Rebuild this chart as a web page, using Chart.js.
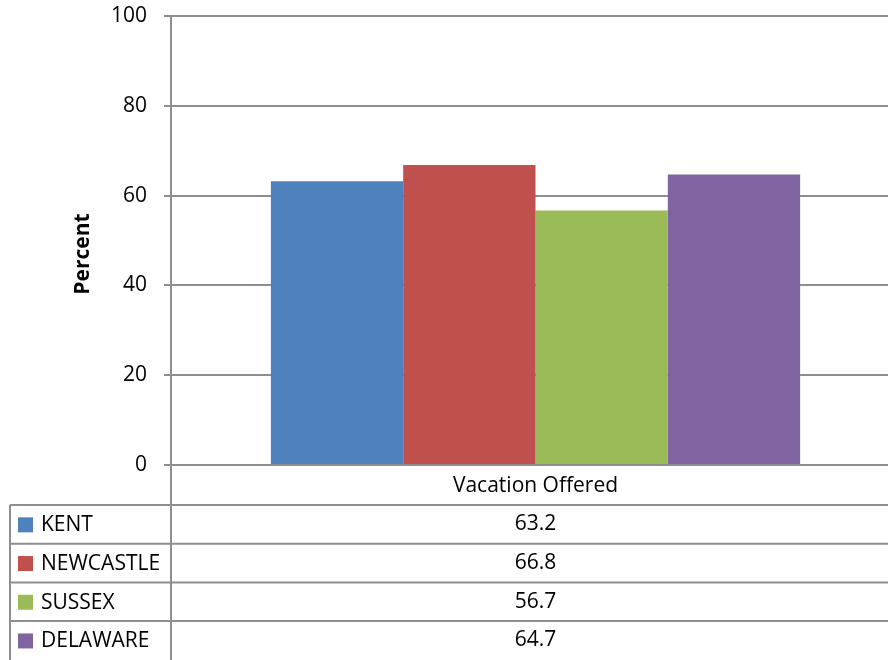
<!DOCTYPE html>
<html>
<head>
<meta charset="utf-8">
<script src="https://cdn.jsdelivr.net/npm/chart.js@4"></script>
<style>
  html, body { margin: 0; padding: 0; background: #fff; overflow: hidden; }
  #wrap { width: 888px; height: 660px; overflow: hidden; }
</style>
</head>
<body>
<div id="wrap"><canvas id="chart" width="900" height="660"></canvas></div>
<script>
const categories = ['Vacation Offered'];
const seriesNames = ['KENT', 'NEWCASTLE', 'SUSSEX', 'DELAWARE'];
const seriesColors = ['#4f81bd', '#c0504d', '#9bbb59', '#8064a2'];
const kentValues = [63.2];
const newcastleValues = [66.8];
const sussexValues = [56.7];
const delawareValues = [64.7];
const seriesValues = [kentValues, newcastleValues, sussexValues, delawareValues];
const yTicks = [0, 20, 40, 60, 80, 100];

const FONT = '"Open Sans", sans-serif';
const GRID = '#8e8e8e';

// draws the data table under the plot and the y title
const dataTable = {
  id: 'dataTable',
  afterDraw(chart) {
    const ctx = chart.ctx;
    const area = chart.chartArea;
    const rowTop = 505;
    const rowH = 38.7;
    ctx.save();
    ctx.strokeStyle = GRID;
    ctx.lineWidth = 2;
    // vertical axis line extended down through the table
    ctx.beginPath();
    ctx.moveTo(area.left, area.top);
    ctx.lineTo(area.left, 660);
    ctx.stroke();
    // left border
    ctx.beginPath();
    ctx.moveTo(10, rowTop);
    ctx.lineTo(10, 660);
    ctx.stroke();
    for (let i = 0; i < seriesNames.length; i++) {
      const y = rowTop + i * rowH;
      ctx.beginPath();
      ctx.moveTo(10, y);
      ctx.lineTo(chart.width, y);
      ctx.stroke();
    }
    ctx.font = '21px ' + FONT;
    ctx.fillStyle = '#000';
    ctx.textBaseline = 'middle';
    const x = chart.scales.x;
    categories.forEach((c, ci) => {
      const cx = x.getPixelForValue(ci);
      ctx.textAlign = 'center';
      ctx.fillText(c, cx, 486);
      seriesNames.forEach((name, si) => {
        const cy = rowTop + si * rowH + rowH / 2;
        ctx.textAlign = 'center';
        ctx.fillText(seriesValues[si][ci].toFixed(1), cx, cy);
      });
    });
    seriesNames.forEach((name, si) => {
      const cy = rowTop + si * rowH + rowH / 2;
      ctx.fillStyle = seriesColors[si];
      ctx.fillRect(18, cy - 7, 15, 15);
      ctx.fillStyle = '#000';
      ctx.textAlign = 'left';
      ctx.fillText(name, 41, cy + 1);
    });
    // y title
    ctx.translate(83, 254);
    ctx.rotate(-Math.PI / 2);
    ctx.font = 'bold 21px ' + FONT;
    ctx.textAlign = 'center';
    ctx.fillText('Percent', 0, 0);
    ctx.restore();
  }
};

new Chart(document.getElementById('chart'), {
  type: 'bar',
  data: {
    labels: categories,
    datasets: seriesNames.map((name, i) => ({
      label: name,
      data: seriesValues[i],
      backgroundColor: seriesColors[i],
      categoryPercentage: 0.726,
      barPercentage: 1
    }))
  },
  options: {
    responsive: false,
    animation: false,
    layout: { padding: { top: 16, left: 0, right: 0, bottom: 0 } },
    plugins: { legend: { display: false }, tooltip: { enabled: false } },
    scales: {
      x: {
        grid: { display: false },
        border: { display: false },
        ticks: { display: false },
        afterFit(scale) { scale.height = 195; }
      },
      y: {
        min: 0,
        max: 100,
        afterBuildTicks(scale) { scale.ticks = yTicks.map(v => ({ value: v })); },
        afterFit(scale) {
          scale.width = 171;
          scale.paddingTop = 0;
          scale.paddingBottom = 0;
        },
        grid: { color: GRID, lineWidth: 2, tickLength: 7 },
        border: { color: GRID, width: 2 },
        ticks: { color: '#000', padding: 17, font: { family: FONT, size: 21 } }
      }
    }
  },
  plugins: [dataTable]
});
</script>
</body>
</html>
